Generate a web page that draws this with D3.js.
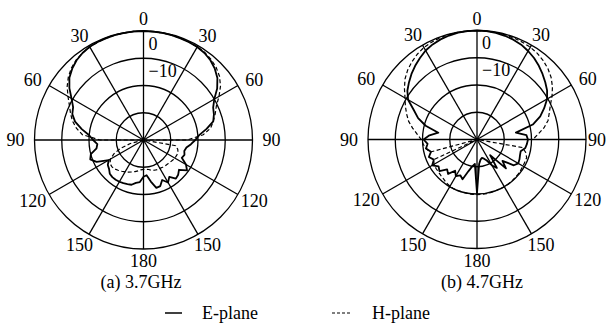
<!DOCTYPE html>
<html>
<head>
<meta charset="utf-8">
<script src="https://cdn.jsdelivr.net/npm/d3@7"></script>
<style>
  body { margin: 0; background: #fff; }
  svg text { font-family: "Liberation Serif", "Times New Roman", serif; fill: #000; }
</style>
</head>
<body>
<svg id="chart" width="608" height="329"></svg>
<script>
// angle of each sample, degrees clockwise from the top
const angles = [0, 5, 10, 15, 20, 25, 30, 35, 40, 45, 50, 55, 60, 65, 70, 75, 80, 85,
  90, 95, 100, 105, 110, 115, 120, 125, 130, 135, 140, 145, 150, 155, 160, 165, 170, 175,
  180, 185, 190, 195, 200, 205, 210, 215, 220, 225, 230, 235, 240, 245, 250, 255, 260, 265,
  270, 275, 280, 285, 290, 295, 300, 305, 310, 315, 320, 325, 330, 335, 340, 345, 350, 355];

// normalised gain in dB, (a) 3.7GHz
const ePlane37 = [0, -0.05, -0.1, -0.2, -0.3, -0.4, -0.6, -1.0, -1.8, -3.0, -4.6, -7.0, -10.0, -11.8, -12.5, -13.5, -16.5, -19.5,
  -21.0, -22.5, -24.0, -24.5, -24.0, -24.5, -22.0, -20.5, -23.0, -22.0, -21.5, -23.5, -22.0, -23.8, -22.0, -21.8, -24.5, -27.0,
  -26.5, -24.5, -24.0, -23.0, -22.8, -22.5, -22.3, -22.2, -22.2, -22.5, -23.5, -24.0, -25.3, -21.0, -19.2, -20.0, -22.5, -23.0,
  -21.5, -20.0, -17.0, -14.0, -12.2, -11.5, -9.5, -6.8, -4.5, -3.0, -1.8, -1.0, -0.5, -0.3, -0.2, -0.1, -0.05, 0];
const hPlane37 = [0, -0.05, -0.1, -0.15, -0.25, -0.35, -0.5, -0.8, -1.4, -2.3, -3.6, -5.5, -8.0, -10.5, -12.0, -13.5, -15.0, -18.0,
  -24.0, -40, -28.0, -27.0, -26.5, -26.6, -26.7, -27.0, -27.3, -27.5, -27.6, -27.8, -28.0, -28.0, -28.2, -28.5, -29.0, -29.2,
  -29.2, -29.0, -28.5, -28.0, -27.5, -27.0, -26.5, -26.0, -25.5, -25.0, -24.8, -25.0, -26.0, -28.0, -31.0, -35.0, -40, -40,
  -24.0, -17.5, -15.0, -13.0, -11.5, -10.0, -8.0, -5.8, -4.0, -2.6, -1.6, -1.0, -0.6, -0.35, -0.2, -0.1, -0.05, 0];

// normalised gain in dB, (b) 4.7GHz
const ePlane47 = [0, -0.1, -0.3, -0.6, -1.0, -1.6, -2.5, -3.5, -4.7, -6.0, -7.3, -8.6, -10.3, -12.8, -15.3, -18.8, -25.5, -21.8,
  -21.3, -21.6, -22.0, -23.4, -23.2, -22.8, -22.5, -23.5, -27.8, -25.0, -32.5, -27.3, -29.0, -31.5, -32.5, -33.0, -32.5, -31.0,
  -20.4, -31.0, -30.0, -28.0, -24.5, -25.5, -24.5, -26.0, -23.5, -24.5, -22.0, -22.8, -21.0, -22.5, -21.2, -22.5, -21.0, -21.8,
  -20.4, -22.5, -25.6, -20.5, -17.0, -14.4, -10.8, -8.8, -7.4, -6.0, -4.7, -3.5, -2.3, -1.5, -0.9, -0.5, -0.2, -0.05];
const hPlane47 = [0, -0.05, -0.1, -0.2, -0.4, -0.6, -0.9, -1.4, -2.2, -3.2, -4.5, -6.2, -8.2, -10.3, -11.8, -13.0, -15.0, -17.5,
  -19.5, -40, -23.0, -21.5, -20.6, -20.6, -20.5, -20.4, -20.3, -20.2, -20.1, -20.0, -20.0, -20.0, -20.0, -19.9, -19.8, -19.8,
  -19.8, -19.8, -19.9, -20.0, -20.0, -20.0, -20.2, -20.5, -21.0, -21.3, -21.5, -21.6, -21.8, -22.5, -40, -22.2, -21.0, -20.2,
  -19.5, -18.0, -16.0, -14.0, -12.5, -11.0, -9.5, -7.5, -5.5, -4.0, -2.8, -1.8, -1.0, -0.6, -0.3, -0.15, -0.05, 0];

const ringValues = [-30, -20, -10, 0];
const ringLabels = [{v: 0, t: '0'}, {v: -10, t: '\u221210'}];
const spokeAngles = [0, 30, 60, 90, 120, 150, 180, 210, 240, 270, 300, 330];
const spokeLabels = ['0', '30', '60', '90', '120', '150', '180', '150', '120', '90', '60', '30'];
const captions = ['(a) 3.7GHz', '(b) 4.7GHz'];
const legendNames = ['E-plane', 'H-plane'];

const width = 608, height = 329;
const R = 109;

const panels = [
  {cx: 143.5, cy: 140, e: ePlane37, h: hPlane37, capX: 141},
  {cx: 477, cy: 139.5, e: ePlane47, h: hPlane47, capX: 482}
];

const r = d3.scaleLinear().domain([-40, 0]).range([0, R]).clamp(true);
const a = d3.scaleLinear().domain([0, 360]).range([0, 2 * Math.PI]);

const svg = d3.select('#chart');
svg.append('rect').attr('width', width).attr('height', height).attr('fill', '#fff');

const line = d3.lineRadial()
  .angle((d, i) => a(angles[i]))
  .radius(d => r(d))
  .curve(d3.curveLinearClosed);

panels.forEach((p, k) => {
  const g = svg.append('g').attr('transform', 'translate(' + p.cx + ',' + p.cy + ')');

  g.selectAll('.ring')
    .data(ringValues)
    .enter().append('circle')
    .attr('class', 'ring')
    .attr('r', d => r(d))
    .attr('fill', 'none')
    .attr('stroke', '#000')
    .attr('stroke-width', 1.3);

  g.selectAll('.spoke')
    .data(spokeAngles)
    .enter().append('line')
    .attr('class', 'spoke')
    .attr('x1', 0).attr('y1', 0)
    .attr('x2', d => R * Math.sin(a(d)))
    .attr('y2', d => -R * Math.cos(a(d)))
    .attr('stroke', '#000')
    .attr('stroke-width', 1.3);

  // angle labels round the rim, kept inside the page
  g.selectAll('.alabel')
    .data(spokeAngles)
    .enter().append('text')
    .attr('class', 'alabel')
    .attr('x', d => Math.min((R + 19) * Math.sin(a(d)), width - 11 - p.cx))
    .attr('y', d => -(R + 12) * Math.cos(a(d)))
    .attr('dy', '0.35em')
    .attr('text-anchor', 'middle')
    .attr('font-size', 18)
    .text((d, i) => spokeLabels[i]);

  // dB labels
  g.selectAll('.rlabel')
    .data(ringLabels)
    .enter().append('text')
    .attr('class', 'rlabel')
    .attr('x', 5)
    .attr('y', d => -r(d.v) + 18.5)
    .attr('font-size', 18)
    .text(d => d.t);

  g.append('path')
    .attr('d', line(p.h))
    .attr('fill', 'none')
    .attr('stroke', '#000')
    .attr('stroke-width', 1.2)
    .attr('stroke-dasharray', '4 2.5');

  g.append('path')
    .attr('d', line(p.e))
    .attr('fill', 'none')
    .attr('stroke', '#000')
    .attr('stroke-width', 1.8)
    .attr('stroke-linejoin', 'round');

  svg.append('text')
    .attr('x', p.capX)
    .attr('y', 288)
    .attr('text-anchor', 'middle')
    .attr('font-size', 18)
    .text(captions[k]);
});

// legend
const legend = svg.append('g');
legend.append('line')
  .attr('x1', 165).attr('x2', 182).attr('y1', 313).attr('y2', 313)
  .attr('stroke', '#000').attr('stroke-width', 1.5);
legend.append('text')
  .attr('x', 202).attr('y', 319).attr('font-size', 18)
  .text(legendNames[0]);
legend.append('line')
  .attr('x1', 332).attr('x2', 350).attr('y1', 313).attr('y2', 313)
  .attr('stroke', '#000').attr('stroke-width', 1.2)
  .attr('stroke-dasharray', '3 2');
legend.append('text')
  .attr('x', 372).attr('y', 319).attr('font-size', 18)
  .text(legendNames[1]);
</script>
</body>
</html>
